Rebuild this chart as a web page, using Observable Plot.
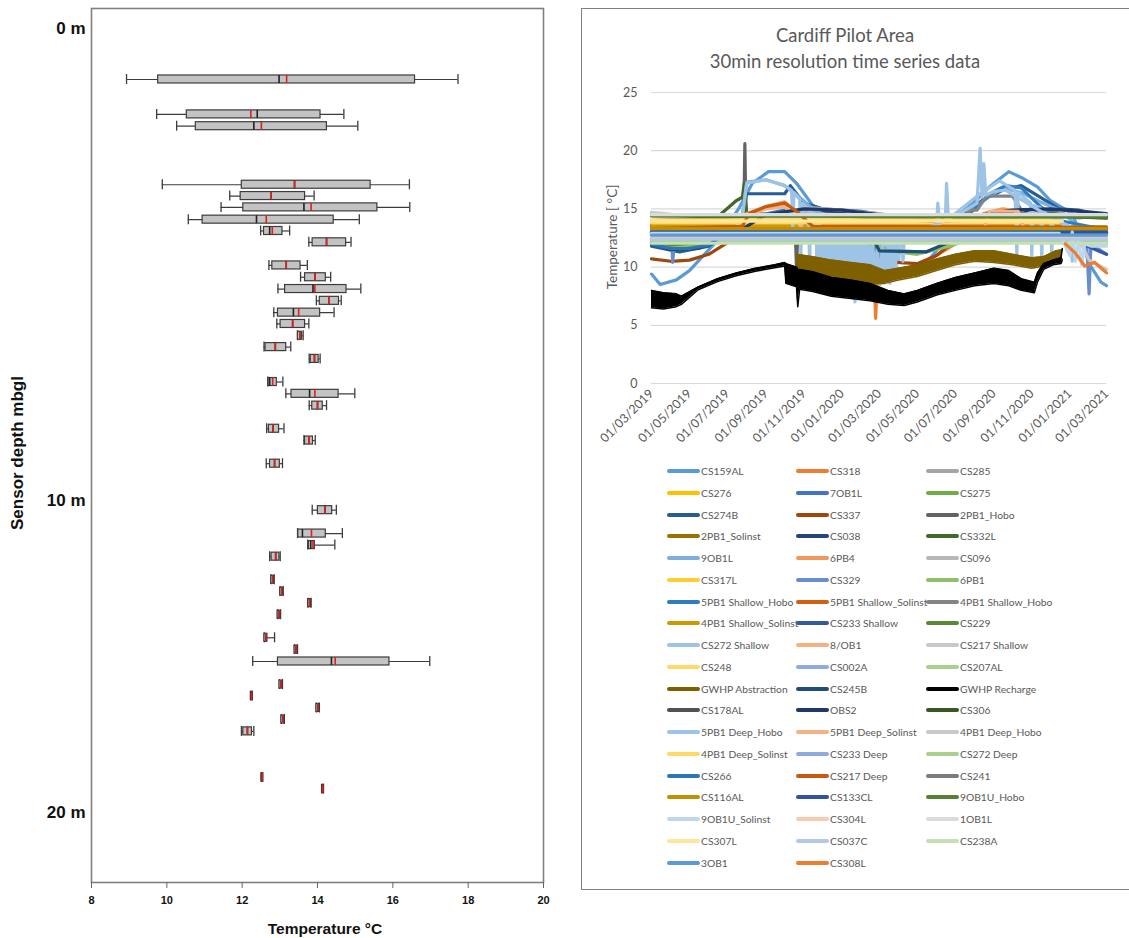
<!DOCTYPE html>
<html>
<head>
<meta charset="utf-8">
<script src="https://cdn.jsdelivr.net/npm/d3@7"></script>
<script src="https://cdn.jsdelivr.net/npm/@observablehq/plot@0.6"></script>
<style>
  html, body { margin: 0; padding: 0; background: #fff; }
  body { width: 1129px; height: 938px; position: relative; overflow: hidden; }
  .abs { position: absolute; }
  #rightFrame { left: 581px; top: 8px; width: 600px; height: 882px; border-left: 1.5px solid #808080; border-top: 1.5px solid #808080; border-bottom: 1.5px solid #808080; box-sizing: border-box; }
  .title { font-family: Lato, "Open Sans", sans-serif; font-size: 18.5px; color: #595959; text-align: center; line-height: 26px; }
  .leg { font-family: Lato, "Open Sans", sans-serif; font-size: 10.3px; color: #595959; white-space: nowrap; display: flex; align-items: center; height: 14px; }
  .sw { display: inline-block; width: 33px; height: 4px; border-radius: 2px; margin-right: 1px; }
</style>
</head>
<body>
<div id="left" class="abs" style="left:0;top:0;"></div>
<div id="rightFrame" class="abs"></div>
<div id="right" class="abs" style="left:581px;top:80px;"></div>
<div id="legend" class="abs" style="left:0;top:0;"></div>
<script>
// ---------------- LEFT PANEL DATA (box plots by sensor depth) ----------------
const depth   = [1.08,1.82,2.07,3.31,3.55,3.79,4.05,4.29,4.53,5.02,5.27,5.52,5.77,6.02,6.26,6.51,6.75,7.00,7.49,7.74,7.99,8.48,8.73,9.22,10.31,11.06,11.43,11.80,12.54,12.92,13.29,13.66,14.40,14.78,15.16,15.90,16.27,16.65,17.02,17.40,18.88,19.25];
const whiskLo = [8.93,9.73,10.26,9.88,11.67,11.44,10.57,12.49,13.77,12.71,13.55,12.95,13.97,12.84,12.92,13.47,12.58,13.78,12.68,13.16,13.78,12.65,13.64,12.64,13.86,13.47,13.74,12.73,12.77,13.01,13.75,12.94,12.59,13.39,12.28,12.99,12.23,13.97,13.04,11.98,12.51,14.12];
const q1      = [9.77,10.53,10.77,11.99,11.96,12.03,10.95,12.58,13.87,12.80,13.67,13.14,14.06,12.95,13.02,13.48,12.62,13.82,12.70,13.31,13.86,12.71,13.67,12.74,14.01,13.49,13.77,12.78,12.77,13.01,13.75,12.94,12.59,13.39,12.95,12.99,12.23,13.97,13.04,12.03,12.51,14.12];
const median  = [12.98,12.40,12.31,13.39,12.77,13.64,12.38,12.73,14.24,13.17,13.93,13.88,14.30,13.36,13.34,13.53,12.88,13.92,12.73,13.79,14.00,12.82,13.77,12.86,14.20,13.60,13.82,12.89,12.81,13.05,13.79,12.98,12.63,13.43,14.37,13.03,12.25,14.01,13.08,12.14,12.53,14.14];
const meanT   = [13.18,12.23,12.51,13.39,12.77,13.83,12.64,12.80,14.24,13.17,13.93,13.93,14.30,13.50,13.34,13.53,12.88,13.92,12.81,13.93,14.00,12.82,13.77,12.86,14.20,13.84,13.88,12.89,12.81,13.05,13.79,12.98,12.63,13.43,14.47,13.03,12.25,14.01,13.08,12.14,12.53,14.14];
const q3      = [16.59,14.08,14.25,15.41,13.67,15.59,14.43,13.07,14.76,13.55,14.22,14.77,14.57,14.07,13.67,13.59,13.17,14.03,12.92,14.56,14.14,12.98,13.88,13.00,14.39,14.22,13.93,12.99,12.85,13.09,13.83,13.02,12.67,13.47,15.91,13.07,12.27,14.05,13.12,12.26,12.55,14.16];
const whiskHi = [17.73,14.70,15.07,16.44,13.91,16.45,15.11,13.26,14.89,13.73,14.35,15.15,14.63,14.44,13.77,13.62,13.29,14.07,13.08,14.99,14.24,13.11,13.94,13.07,14.50,14.66,14.46,13.01,12.85,13.09,13.83,13.02,12.86,13.47,16.98,13.07,12.27,14.05,13.12,12.31,12.55,14.16];
const tempTicks = [8,10,12,14,16,18,20];
const depthTicks = [0,10,20];

// ---------------- RIGHT PANEL DATA (time series) ----------------
const seriesNames = ["CS159AL","CS318","CS285","CS276","7OB1L","CS275","CS274B","CS337","2PB1_Hobo","2PB1_Solinst","CS038","CS332L","9OB1L","6PB4","CS096","CS317L","CS329","6PB1","5PB1 Shallow_Hobo","5PB1 Shallow_Solinst","4PB1 Shallow_Hobo","4PB1 Shallow_Solinst","CS233 Shallow","CS229","CS272 Shallow","8/OB1","CS217 Shallow","CS248","CS002A","CS207AL","GWHP Abstraction","CS245B","GWHP Recharge","CS178AL","OBS2","CS306","5PB1 Deep_Hobo","5PB1 Deep_Solinst","4PB1 Deep_Hobo","4PB1 Deep_Solinst","CS233 Deep","CS272 Deep","CS266","CS217 Deep","CS241","CS116AL","CS133CL","9OB1U_Hobo","9OB1U_Solinst","CS304L","1OB1L","CS307L","CS037C","CS238A","3OB1","CS308L"];
const seriesColors = ["#5B9BD5","#ED7D31","#A5A5A5","#FFC000","#4472C4","#70AD47","#255E91","#9E480E","#636363","#997300","#264478","#43682B","#7CAFDD","#F1975A","#B7B7B7","#FFCD33","#698ED0","#8CC168","#327DC2","#D26012","#848484","#CC9A00","#335AA1","#5A8A39","#9DC3E6","#F4B183","#C9C9C9","#FFD966","#8FAADC","#A9D18E","#7F6000","#1F4E79","#000000","#525252","#203864","#385723","#9DC3E6","#F4B183","#C9C9C9","#FFD966","#8FAADC","#A9D18E","#2E75B6","#C55A11","#7B7B7B","#BF9000","#2F5597","#548235","#BDD7EE","#F8CBAD","#DBDBDB","#FFE699","#B4C7E7","#C5E0B4","#5B9BD5","#ED7D31"];
const dateTicks = ["2019-03-01","2019-05-01","2019-07-01","2019-09-01","2019-11-01","2020-01-01","2020-03-01","2020-05-01","2020-07-01","2020-09-01","2020-11-01","2021-01-01","2021-03-01"];
const tempGrid = [0,5,10,15,20,25];

const s_CS159AL = [["2019-03-01",9.4],["2019-03-15",8.5],["2019-04-10",8.9],["2019-05-01",9.7],["2019-06-15",12.3],["2019-07-20",15.1],["2019-08-10",17.2],["2019-09-05",18.2],["2019-10-01",18.2],["2019-10-20",17.2],["2019-11-15",15.3],["2019-12-10",14.7],["2020-01-15",14.0],["2020-02-10",12.5],["2020-03-10",10.4],["2020-04-10",9.6],["2020-05-10",10.0],["2020-06-10",12.0],["2020-06-25",14.0],["2020-08-01",15.6],["2020-08-25",16.9],["2020-09-25",18.2],["2020-10-15",17.7],["2020-11-10",16.9],["2020-12-01",15.7],["2021-01-05",14.6],["2021-01-20",12.5],["2021-02-01",10.3],["2021-02-20",8.7],["2021-03-01",8.4]];
const s_CS318 = [["2019-03-01",12.5],["2020-01-31",12.5],["2020-02-01",NaN],["2020-02-10",9.3],["2020-02-22",8.9],["2020-02-24",5.6],["2020-02-27",8.9],["2020-04-01",9.5],["2020-05-01",10.0],["2020-06-01",11.0],["2020-07-01",12.0],["2020-07-15",12.5],["2020-12-20",12.5]];
const s_CS285 = [["2019-03-01",14.6],["2019-06-15",14.1],["2019-10-15",14.3],["2019-11-15",14.9],["2020-01-15",14.7],["2020-04-15",14.1],["2020-08-01",14.1],["2020-11-15",14.6],["2021-01-15",14.5],["2021-03-01",14.4]];
const s_CS276 = [["2019-03-01",13.9],["2020-12-15",13.9]];
const s_7OB1L = [["2019-03-01",12.9],["2021-03-01",12.9]];
const s_CS275 = [["2019-03-01",11.9],["2019-04-15",11.7],["2019-05-25",11.9],["2019-06-20",12.4],["2020-02-15",12.4],["2020-03-15",11.4],["2020-05-15",11.3],["2020-06-15",11.9],["2020-07-15",12.4],["2020-12-20",12.4]];
const s_CS274B = [["2019-03-01",11.8],["2019-04-15",11.3],["2019-06-01",11.8],["2019-07-01",13.0],["2019-07-25",14.4],["2019-08-01",16.3],["2019-10-01",16.3],["2019-10-10",17.0],["2019-11-01",15.5],["2019-12-01",15.0],["2020-02-01",14.8],["2020-04-01",14.3],["2020-06-01",13.9],["2020-07-15",14.5],["2020-08-15",15.8],["2020-09-15",16.6],["2020-10-15",17.0],["2020-11-15",16.0],["2020-12-15",15.0],["2021-01-15",14.9],["2021-03-01",14.3]];
const s_CS337 = [["2019-03-01",10.7],["2019-04-01",10.5],["2019-05-01",10.6],["2019-06-01",11.1],["2019-07-01",12.1],["2019-07-20",13.6],["2020-02-20",13.5],["2020-03-01",10.5],["2020-05-01",10.3],["2020-06-01",11.0],["2020-07-01",12.3],["2020-07-20",13.6],["2020-12-20",13.6]];
const s_2PB1_Hobo = [["2019-03-01",13.2],["2019-07-27",13.3],["2019-07-29",20.6],["2019-07-31",13.3],["2019-10-18",13.1],["2019-10-20",9.8],["2019-10-22",13.0],["2021-03-01",12.6]];
const s_2PB1_Solinst = [["2019-03-01",13.45],["2021-03-01",13.45]];
const s_CS038 = [["2019-03-01",13.0],["2019-09-15",13.6],["2019-11-01",14.9],["2020-02-01",14.7],["2020-05-01",14.2],["2020-08-01",14.2],["2020-11-01",14.9],["2021-01-01",14.9],["2021-03-01",14.6]];
const s_CS332L = [["2019-03-01",13.1],["2019-04-15",12.6],["2019-05-15",13.6],["2019-06-15",14.3],["2019-07-15",15.7],["2019-07-25",16.0],["2019-07-28",17.2],["2019-08-01",14.6],["2019-10-01",14.5],["2020-01-01",14.3],["2020-05-01",14.0],["2020-09-01",14.1],["2020-12-01",14.6],["2021-03-01",14.3]];
const s_9OB1L = [["2019-03-01",12.2],["2019-06-01",12.4],["2019-07-01",13.5],["2019-07-25",14.5],["2019-08-01",17.3],["2019-09-01",17.5],["2019-10-01",17.0],["2019-10-25",16.0],["2019-11-20",14.8],["2019-12-15",14.3],["2020-03-01",13.6],["2020-06-15",13.6],["2020-07-15",14.3],["2020-08-15",15.7],["2020-09-15",16.8],["2020-10-15",16.4],["2020-11-15",15.6],["2020-12-15",14.9],["2021-01-15",13.5],["2021-03-01",13.0]];
const s_6PB4 = [["2019-03-01",12.7],["2019-07-15",12.8],["2019-08-01",14.6],["2019-09-01",15.2],["2019-10-01",15.6],["2019-10-20",14.8],["2019-11-15",13.0],["2020-07-15",12.8],["2020-08-15",14.6],["2020-09-15",15.0],["2020-10-15",14.8],["2020-11-15",13.0],["2021-03-01",12.8]];
const s_CS096 = [["2019-03-01",14.4],["2019-06-01",14.0],["2019-10-15",14.4],["2019-11-15",15.1],["2020-03-01",14.6],["2020-05-15",14.0],["2020-12-15",14.5],["2021-01-15",14.2],["2021-03-01",14.5]];
const s_CS317L = [["2019-03-01",14.0],["2020-11-25",14.0]];
const s_CS329 = [["2019-03-01",12.8],["2019-04-02",12.8],["2019-04-04",10.4],["2019-04-07",12.2],["2021-01-28",12.3],["2021-02-01",7.7],["2021-02-04",12.0],["2021-03-01",11.1]];
const s_6PB1 = [["2019-03-01",12.2],["2019-04-15",11.8],["2019-06-01",12.2],["2020-02-15",12.2],["2020-03-15",11.4],["2020-05-01",11.1],["2020-06-15",11.7],["2020-07-15",12.2],["2020-12-20",12.2]];
const s_5PB1_Shallow_Hobo = [["2019-03-01",13.0],["2019-07-15",13.1],["2019-08-15",14.4],["2019-10-01",14.9],["2019-11-15",13.6],["2020-07-01",13.3],["2020-08-01",15.0],["2020-09-01",16.5],["2020-09-20",17.0],["2020-10-15",16.8],["2020-11-15",15.2],["2020-12-15",14.0],["2021-03-01",13.2]];
const s_5PB1_Shallow_Solinst = [["2019-03-01",13.6],["2020-12-20",13.6]];
const s_4PB1_Shallow_Hobo = [["2019-03-01",13.05],["2020-07-20",13.05],["2020-07-22",14.9],["2020-08-05",14.9],["2020-08-20",16.1],["2020-10-01",16.1],["2020-10-20",14.5],["2020-11-15",13.1],["2021-03-01",13.05]];
const s_4PB1_Shallow_Solinst = [["2019-03-01",13.55],["2021-03-01",13.4]];
const s_CS233_Shallow = [["2019-03-01",12.7],["2020-12-20",12.6],["2021-01-20",12.0],["2021-03-01",11.1]];
const s_CS229 = [["2019-03-01",12.4],["2019-04-01",11.9],["2019-06-01",12.2],["2019-07-01",12.4],["2020-12-20",12.4]];
const s_CS272_Shallow = [["2019-03-01",13.0],["2019-07-10",13.1],["2019-07-25",14.3],["2019-08-01",17.2],["2019-09-01",17.5],["2019-10-01",17.0],["2019-10-12",16.6],["2019-10-14",13.2],["2019-10-16",16.4],["2019-10-25",15.8],["2019-10-27",11.0],["2019-10-29",15.5],["2019-11-08",15.0],["2019-11-10",10.2],["2019-11-12",14.8],["2019-11-20",14.5],["2019-11-22",9.5],["2019-11-24",14.3],["2019-12-01",12.0],["2019-12-04",9.0],["2019-12-07",13.5],["2019-12-12",8.8],["2019-12-16",12.8],["2019-12-20",9.5],["2019-12-24",12.5],["2019-12-28",8.5],["2020-01-02",12.0],["2020-01-06",9.0],["2020-01-10",11.5],["2020-01-14",8.6],["2020-01-18",12.0],["2020-01-22",7.0],["2020-01-26",11.0],["2020-01-30",8.5],["2020-02-03",12.2],["2020-02-07",8.8],["2020-02-11",11.5],["2020-02-15",8.5],["2020-02-19",12.0],["2020-02-23",9.0],["2020-02-27",11.8],["2020-03-02",8.5],["2020-03-06",12.0],["2020-03-10",8.8],["2020-03-14",11.5],["2020-03-18",8.6],["2020-03-22",12.2],["2020-03-26",9.0],["2020-03-30",13.0],["2020-04-05",12.8],["2020-04-08",10.5],["2020-04-11",13.0],["2020-05-01",13.2],["2020-06-01",13.6],["2020-06-15",14.0],["2020-07-01",14.6],["2020-08-10",16.3],["2020-09-10",17.4],["2020-10-05",16.6],["2020-10-08",11.0],["2020-10-10",16.4],["2020-10-30",15.5],["2020-11-01",10.9],["2020-11-03",15.3],["2020-11-15",15.1],["2020-11-17",10.5],["2020-11-19",14.8],["2020-12-01",14.3],["2020-12-03",11.0],["2020-12-05",14.2],["2021-01-01",13.5],["2021-01-05",10.5],["2021-01-08",13.3],["2021-03-01",13.1]];
// CS272 Shallow: dense noisy winter section, read as low / high envelope
const cs272WinterDates = ["2019-11-25","2019-12-10","2020-01-01","2020-01-20","2020-02-10","2020-03-01","2020-03-20","2020-04-05"];
const cs272WinterLow   = [10.8,9.4,8.9,8.6,8.8,8.6,8.9,10.6];
const cs272WinterHigh  = [12.6,12.5,12.3,12.3,12.3,12.3,12.5,12.6];
const s_8OB1 = [["2019-03-01",13.15],["2019-07-25",13.2],["2019-08-05",14.5],["2019-09-01",15.0],["2019-10-01",15.2],["2019-10-15",14.3],["2019-11-01",13.2],["2021-03-01",13.15]];
const s_CS217_Shallow = [["2019-03-01",14.7],["2019-06-01",14.2],["2020-12-20",14.2]];
const s_CS248 = [["2019-03-01",13.8],["2020-12-20",13.8]];
const s_CS002A = [["2019-03-01",12.95],["2021-03-01",12.95]];
const s_CS207AL = [["2019-03-01",12.15],["2021-03-01",12.15]];
// GWHP Abstraction: noisy logger, read as low / high envelope
const abstractionDates = ["2019-10-20","2019-11-15","2019-12-15","2020-01-15","2020-02-15","2020-03-10","2020-04-01","2020-05-01","2020-06-01","2020-07-01","2020-08-01","2020-09-01","2020-10-01","2020-11-01","2020-11-20","2020-12-10","2020-12-20"];
const abstractionLow  = [9.4,9.2,8.9,8.8,8.6,8.6,8.9,9.2,9.7,10.2,10.5,10.4,10.2,9.9,10.1,10.6,10.7];
const abstractionHigh = [11.1,10.9,10.6,10.4,10.2,9.7,9.9,10.2,10.7,11.1,11.4,11.4,11.1,10.8,10.9,11.4,11.5];
const s_CS245B = [["2019-03-01",12.1],["2019-04-01",11.5],["2019-05-15",11.6],["2019-06-15",12.3],["2019-07-01",13.2],["2020-02-15",13.0],["2020-03-01",11.4],["2020-05-15",11.3],["2020-06-15",12.0],["2020-07-15",13.0],["2020-12-20",13.1]];
// GWHP Recharge: noisy logger, read as low / high envelope
const rechargeDates = ["2019-03-01","2019-03-20","2019-04-10","2019-04-18","2019-05-15","2019-06-15","2019-07-15","2019-08-15","2019-09-15","2019-10-01","2019-10-03","2019-10-20","2019-10-22","2019-10-25","2019-11-15","2019-12-15","2020-01-15","2020-02-15","2020-03-15","2020-04-10","2020-05-01","2020-06-01","2020-07-01","2020-08-01","2020-09-01","2020-09-25","2020-10-15","2020-11-05","2020-11-10","2020-11-20","2020-12-05","2020-12-18","2020-12-20"];
const rechargeLow  = [6.5,6.4,6.6,6.8,8.05,8.75,9.25,9.65,9.95,10.1,8.6,8.3,6.6,8.1,7.9,7.5,7.3,7.1,6.8,6.7,7.0,7.6,8.0,8.4,8.6,8.4,8.0,7.8,8.7,9.8,10.2,10.3,10.6];
const rechargeHigh = [8.0,7.8,7.7,7.5,8.3,9.0,9.5,9.9,10.2,10.4,10.3,10.0,9.8,9.8,9.6,9.1,8.9,8.6,8.0,7.7,8.0,8.6,9.1,9.5,9.9,9.7,9.0,8.7,9.5,10.3,10.6,10.8,11.6];
const s_CS178AL = [["2019-03-01",13.25],["2021-03-01",13.2]];
const s_OBS2 = [["2019-03-01",12.6],["2019-07-01",12.7],["2019-08-01",13.5],["2019-09-01",14.5],["2019-11-01",15.0],["2020-01-01",14.9],["2020-04-01",14.3],["2020-07-01",14.1],["2020-10-01",14.9],["2020-12-01",15.0],["2021-01-15",14.8],["2021-03-01",14.5]];
const s_CS306 = [["2019-03-01",14.0],["2019-10-01",14.5],["2020-01-01",14.4],["2020-06-01",13.9],["2020-12-01",14.4],["2021-03-01",14.2]];
const s_5PB1_Deep_Hobo = [["2019-03-01",12.6],["2020-05-25",12.8],["2020-06-01",13.5],["2020-06-03",15.5],["2020-06-06",13.8],["2020-06-15",14.0],["2020-06-17",17.2],["2020-06-20",14.2],["2020-07-15",14.8],["2020-08-05",15.5],["2020-08-10",20.2],["2020-08-13",16.0],["2020-08-16",18.9],["2020-08-19",16.2],["2020-09-01",16.5],["2020-09-20",16.6],["2020-10-15",15.8],["2020-11-15",14.8],["2020-12-15",14.0],["2021-01-15",12.2],["2021-03-01",12.0]];
const s_5PB1_Deep_Solinst = [["2019-03-01",13.0],["2020-08-15",13.0],["2020-08-25",14.8],["2020-10-10",14.8],["2020-10-20",13.2],["2021-03-01",13.0]];
const s_4PB1_Deep_Hobo = [["2019-03-01",13.0],["2020-12-20",13.0],["2021-01-15",12.5],["2021-02-01",10.6],["2021-03-01",9.8]];
const s_4PB1_Deep_Solinst = [["2019-03-01",14.05],["2020-12-01",14.05]];
const s_CS233_Deep = [["2019-03-01",12.7],["2021-03-01",12.7]];
const s_CS272_Deep = [["2019-03-01",12.25],["2021-03-01",12.25]];
const s_CS266 = [["2019-03-01",12.0],["2019-04-01",11.6],["2019-05-01",11.6],["2019-06-01",11.9],["2019-07-01",13.0],["2021-03-01",13.0]];
const s_CS217_Deep = [["2019-03-01",13.3],["2019-07-25",13.5],["2019-08-05",14.6],["2019-09-01",15.2],["2019-10-01",15.5],["2019-10-20",14.8],["2019-11-15",13.5],["2021-03-01",13.4]];
const s_CS241 = [["2019-03-01",13.1],["2021-03-01",13.1]];
const s_CS116AL = [["2019-03-01",13.3],["2021-03-01",13.3]];
const s_CS133CL = [["2019-03-01",13.0],["2021-03-01",13.0]];
const s_9OB1U_Hobo = [["2019-03-01",14.4],["2021-03-01",14.3]];
const s_9OB1U_Solinst = [["2019-03-01",12.9],["2020-12-15",12.9],["2021-01-01",11.0],["2021-01-05",13.0],["2021-01-10",10.5],["2021-01-15",12.5],["2021-01-20",10.2],["2021-01-25",12.0],["2021-02-05",11.8],["2021-03-01",11.8]];
const s_CS304L = [["2019-03-01",12.6],["2021-03-01",12.6]];
const s_1OB1L = [["2019-03-01",14.5],["2021-03-01",14.5]];
const s_CS307L = [["2019-03-01",13.95],["2020-12-20",13.95]];
const s_CS037C = [["2019-03-01",12.4],["2021-03-01",12.4]];
const s_CS238A = [["2019-03-01",12.05],["2021-03-01",12.05]];
const s_3OB1 = [["2019-03-01",12.75],["2021-03-01",12.75]];
const s_CS308L = [["2020-12-25",12.0],["2021-01-10",11.2],["2021-01-25",10.1],["2021-02-10",10.4],["2021-03-01",9.5]];

const seriesPoints = [s_CS159AL,s_CS318,s_CS285,s_CS276,s_7OB1L,s_CS275,s_CS274B,s_CS337,s_2PB1_Hobo,s_2PB1_Solinst,s_CS038,s_CS332L,s_9OB1L,s_6PB4,s_CS096,s_CS317L,s_CS329,s_6PB1,s_5PB1_Shallow_Hobo,s_5PB1_Shallow_Solinst,s_4PB1_Shallow_Hobo,s_4PB1_Shallow_Solinst,s_CS233_Shallow,s_CS229,s_CS272_Shallow,s_8OB1,s_CS217_Shallow,s_CS248,s_CS002A,s_CS207AL,null,s_CS245B,null,s_CS178AL,s_OBS2,s_CS306,s_5PB1_Deep_Hobo,s_5PB1_Deep_Solinst,s_4PB1_Deep_Hobo,s_4PB1_Deep_Solinst,s_CS233_Deep,s_CS272_Deep,s_CS266,s_CS217_Deep,s_CS241,s_CS116AL,s_CS133CL,s_9OB1U_Hobo,s_9OB1U_Solinst,s_CS304L,s_1OB1L,s_CS307L,s_CS037C,s_CS238A,s_3OB1,s_CS308L];

// ---------------- LEFT CHART ----------------
const boxes = depth.map((d, i) => ({depth: d, lo: whiskLo[i], q1: q1[i], med: median[i], mean: meanT[i], q3: q3[i], hi: whiskHi[i]}));
const boxStroke = "#3c3c3c";
const left = Plot.plot({
  width: 560, height: 938,
  marginLeft: 91, marginRight: 17, marginTop: 8, marginBottom: 56,
  x: {type: "linear", domain: [8, 20]},
  y: {type: "linear", domain: [0, 10, 20], range: [28, 500, 812]},
  style: {fontFamily: "'Liberation Sans', Arial, sans-serif", background: "transparent", overflow: "visible"},
  marks: [
    Plot.frame({stroke: "#808080", strokeWidth: 1.6}),
    Plot.axisX({ticks: tempTicks, tickSize: 6, tickPadding: 8, fontSize: 11, fontWeight: "bold", fill: "#111", stroke: "#666", label: null}),
    Plot.axisY({ticks: depthTicks, tickSize: 0, tickPadding: 6, tickFormat: d => `${d} m`, fontSize: 17, fontWeight: "bold", fill: "#111", label: null}),
    Plot.ruleY(boxes, {y: "depth", x1: "lo", x2: "hi", stroke: boxStroke, strokeWidth: 1.2}),
    Plot.ruleX(boxes, {x: "lo", y1: "depth", y2: "depth", insetTop: -5, insetBottom: -5, stroke: boxStroke, strokeWidth: 1.3}),
    Plot.ruleX(boxes, {x: "hi", y1: "depth", y2: "depth", insetTop: -5, insetBottom: -5, stroke: boxStroke, strokeWidth: 1.3}),
    Plot.rect(boxes, {x1: "q1", x2: "q3", y1: "depth", y2: "depth", insetTop: -4, insetBottom: -4, fill: "#c3c3c3", stroke: boxStroke, strokeWidth: 1.2}),
    Plot.ruleX(boxes, {x: "med", y1: "depth", y2: "depth", insetTop: -4, insetBottom: -4, stroke: "#222", strokeWidth: 1.6}),
    Plot.ruleX(boxes, {x: "mean", y1: "depth", y2: "depth", insetTop: -4, insetBottom: -4, stroke: "#e0201b", strokeWidth: 1.6})
  ]
});
document.getElementById("left").appendChild(left);

function addText(txt, css) {
  const d = document.createElement("div");
  d.className = "abs";
  d.textContent = txt;
  Object.assign(d.style, css);
  document.body.appendChild(d);
  return d;
}
addText("Temperature °C", {left: "225px", width: "200px", top: "919px", textAlign: "center", fontFamily: "'Liberation Sans', Arial, sans-serif", fontWeight: "bold", fontSize: "15.5px", color: "#111", lineHeight: "20px"});
addText("Sensor depth mbgl", {left: "-82px", width: "200px", top: "443px", textAlign: "center", transform: "rotate(-90deg)", fontFamily: "'Liberation Sans Narrow', 'Liberation Sans', Arial, sans-serif", fontWeight: "bold", fontSize: "17px", color: "#111", lineHeight: "20px"});

// ---------------- RIGHT CHART ----------------
const parse = s => new Date(s + "T00:00:00Z");
const lineRowsA = [], lineRowsB = [];
seriesPoints.forEach((pts, i) => {
  if (!pts) return;
  const target = i < 31 ? lineRowsA : lineRowsB;
  pts.forEach(([d, v]) => target.push({series: seriesNames[i], date: parse(d), value: v}));
});
const lineRowsMid = lineRowsB.filter(r => r.series === "CS245B");
const lineRowsLate = lineRowsB.filter(r => r.series !== "CS245B");
const cs272Winter = cs272WinterDates.map((d, i) => ({series: "CS272 Shallow", date: parse(d), lo: cs272WinterLow[i], hi: cs272WinterHigh[i]}));
const abstraction = abstractionDates.map((d, i) => ({series: "GWHP Abstraction", date: parse(d), lo: abstractionLow[i], hi: abstractionHigh[i]}));
const recharge = rechargeDates.map((d, i) => ({series: "GWHP Recharge", date: parse(d), lo: rechargeLow[i], hi: rechargeHigh[i]}));

const lineOpts = {x: "date", y: "value", z: "series", stroke: "series", strokeWidth: 3.2, strokeLinejoin: "round", strokeLinecap: "round"};
const right = Plot.plot({
  width: 548, height: 380,
  marginLeft: 70, marginRight: 23, marginTop: 12, marginBottom: 77,
  x: {type: "utc", domain: [parse(dateTicks[0]), parse(dateTicks[dateTicks.length - 1])]},
  y: {type: "linear", domain: [0, 25]},
  color: {domain: seriesNames, range: seriesColors},
  style: {fontFamily: "Lato, 'Open Sans', sans-serif", background: "transparent", overflow: "visible"},
  marks: [
    Plot.gridY(tempGrid, {stroke: "#d9d9d9", strokeOpacity: 1, strokeWidth: 1.2}),
    Plot.axisY({ticks: tempGrid, tickSize: 0, tickPadding: 14, fontSize: 12.5, fill: "#595959", label: null}),
    Plot.axisX({ticks: dateTicks.map(parse), tickFormat: d3.utcFormat("%d/%m/%Y"), tickRotate: -45, tickSize: 0, tickPadding: 8, fontSize: 12.5, fill: "#595959", label: null}),
    Plot.areaY(cs272Winter, {x: "date", y1: "lo", y2: "hi", fill: "series"}),
    Plot.line(lineRowsA, lineOpts),
    Plot.areaY(abstraction, {x: "date", y1: "lo", y2: "hi", fill: "series"}),
    Plot.line(abstraction, {x: "date", y: "hi", stroke: "series", strokeWidth: 1.5}),
    Plot.line(abstraction, {x: "date", y: "lo", stroke: "series", strokeWidth: 1.5}),
    Plot.line(lineRowsMid, lineOpts),
    Plot.areaY(recharge, {x: "date", y1: "lo", y2: "hi", fill: "series"}),
    Plot.line(recharge, {x: "date", y: "hi", stroke: "series", strokeWidth: 1.5}),
    Plot.line(recharge, {x: "date", y: "lo", stroke: "series", strokeWidth: 1.5}),
    Plot.line(lineRowsLate, lineOpts)
  ]
});
document.getElementById("right").appendChild(right);

const t = addText("", {left: "645px", width: "400px", top: "22px"});
t.className = "abs title";
t.innerHTML = "Cardiff Pilot Area<br>30min resolution time series data";
addText("Temperature [ °C]", {left: "542px", width: "140px", top: "228px", textAlign: "center", transform: "rotate(-90deg)", fontFamily: "Lato, 'Open Sans', sans-serif", fontSize: "13.5px", color: "#595959", lineHeight: "18px"});

// ---------------- LEGEND ----------------
const legend = document.getElementById("legend");
const colX = [667, 796, 926];
seriesNames.forEach((name, i) => {
  const row = Math.floor(i / 3), col = i % 3;
  const item = document.createElement("div");
  item.className = "abs leg";
  item.style.left = colX[col] + "px";
  item.style.top = (471 + row * 21.75 - 7) + "px";
  const sw = document.createElement("span");
  sw.className = "sw";
  sw.style.background = seriesColors[i];
  item.appendChild(sw);
  item.appendChild(document.createTextNode(name));
  legend.appendChild(item);
});
</script>
</body>
</html>
